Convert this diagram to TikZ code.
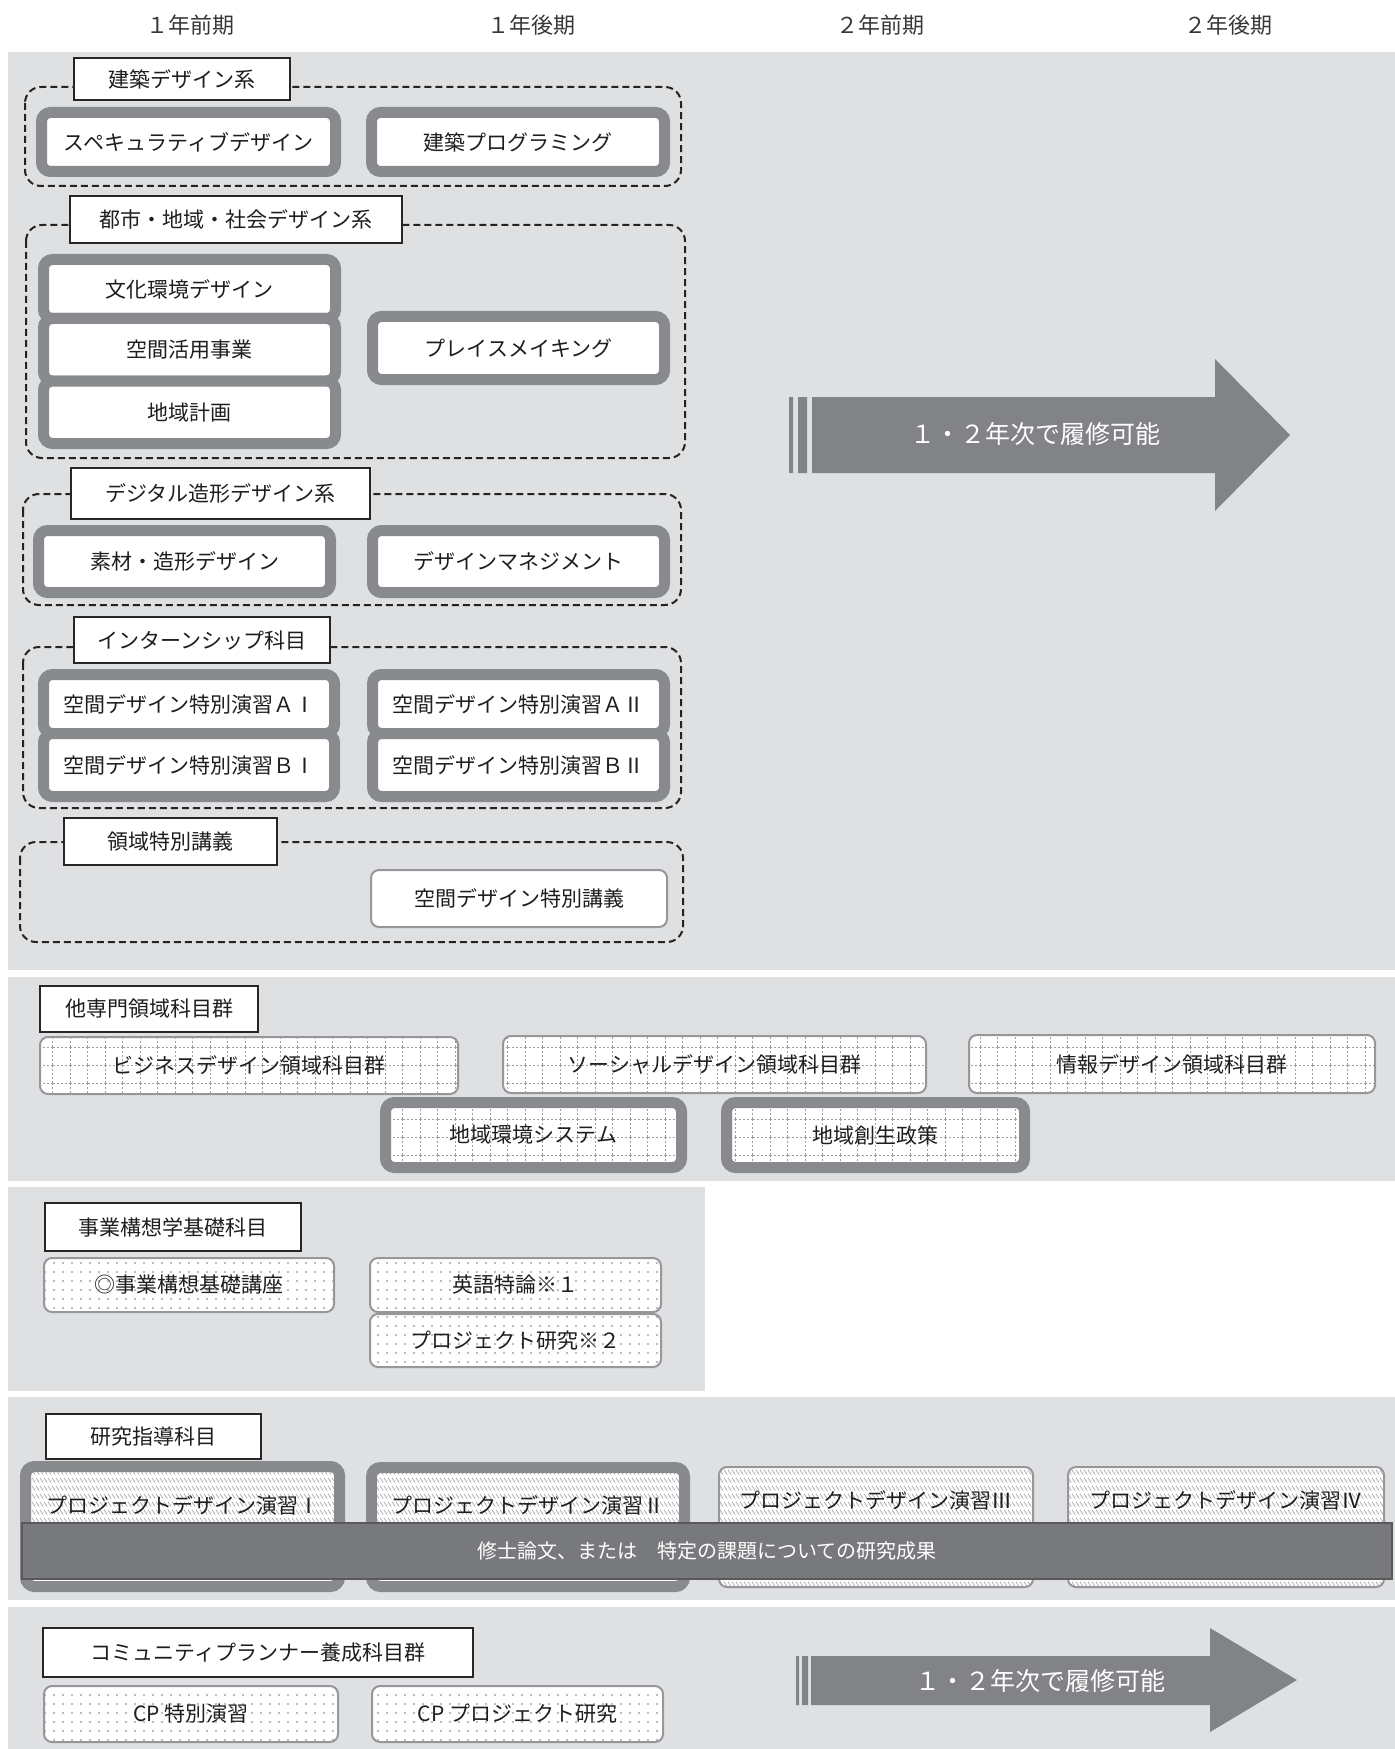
\documentclass[tikz,border=0pt]{standalone}
\usepackage{fontspec}
\setmainfont{Noto Sans CJK JP}
\usetikzlibrary{patterns}

\definecolor{bandgray}{RGB}{223,224,226}
\definecolor{rimgray}{RGB}{137,138,141}
\definecolor{arrowgray}{RGB}{130,131,135}
\definecolor{bargray}{RGB}{120,121,124}
\definecolor{edgegray}{RGB}{150,151,154}
\definecolor{dashgray}{RGB}{35,35,35}
\definecolor{inkgray}{RGB}{30,30,30}
\definecolor{headgray}{RGB}{55,55,55}

% fill patterns of the subject boxes
\pgfdeclarepatternformonly{dashgrid}{\pgfqpoint{-0.5pt}{-0.5pt}}{\pgfqpoint{9.5pt}{9.5pt}}{\pgfqpoint{8.75pt}{9pt}}{%
  \pgfsetlinewidth{0.4pt}\pgfsetdash{{1pt}{1pt}}{0pt}%
  \pgfpathmoveto{\pgfqpoint{0pt}{0pt}}\pgfpathlineto{\pgfqpoint{8.75pt}{0pt}}%
  \pgfpathmoveto{\pgfqpoint{0pt}{0pt}}\pgfpathlineto{\pgfqpoint{0pt}{9pt}}%
  \pgfusepath{stroke}}
\pgfdeclarepatternformonly{sparsedots}{\pgfqpoint{-0.7pt}{-0.7pt}}{\pgfqpoint{0.7pt}{0.7pt}}{\pgfqpoint{4.5pt}{4.5pt}}{%
  \pgfpathcircle{\pgfqpoint{0pt}{0pt}}{0.55pt}\pgfusepath{fill}}
\pgfdeclarepatternformonly{shorthatch}{\pgfqpoint{-0.5pt}{-0.5pt}}{\pgfqpoint{2.5pt}{4.5pt}}{\pgfqpoint{2pt}{4pt}}{%
  \pgfsetlinewidth{0.35pt}%
  \pgfpathmoveto{\pgfqpoint{0pt}{3.6pt}}\pgfpathlineto{\pgfqpoint{1.6pt}{1.2pt}}%
  \pgfusepath{stroke}}

\newcommand{\subjsize}{\fontsize{10.5pt}{12pt}\selectfont}
\newcommand{\headsize}{\fontsize{11pt}{13pt}\selectfont}
\newcommand{\spansize}{\fontsize{12.5pt}{15pt}\selectfont}
\newcommand{\thesissize}{\fontsize{10pt}{12pt}\selectfont}

\tikzset{
  bandbg/.style={fill=bandgray},
  grpline/.style={draw=dashgray, line width=1pt, dash pattern=on 3.5pt off 2pt, rounded corners=8pt},
  tagbox/.style={draw=black!85, fill=white, line width=0.6pt, inner sep=0pt, text=inkgray, font=\subjsize},
  heavybox/.style={draw=rimgray, fill=white, line width=5.5pt, rounded corners=4.5pt, inner sep=0pt, text=inkgray, font=\subjsize},
  slimbox/.style={draw=edgegray, fill=white, line width=1pt, rounded corners=4pt, inner sep=0pt, text=inkgray, font=\subjsize},
  gridfill/.style={preaction={fill=white}, pattern=dashgrid, pattern color=gray!75},
  dotfill/.style={preaction={fill=white}, pattern=sparsedots, pattern color=gray!70},
  hatchfill/.style={preaction={fill=white}, pattern=shorthatch, pattern color=gray!70},
  subjtxt/.style={text=inkgray, font=\subjsize, inner sep=0pt},
  headtxt/.style={text=headgray, font=\headsize},
  spantxt/.style={text=white, font=\spansize},
  thesisbox/.style={draw=black!65, fill=bargray, line width=0.7pt, inner sep=0pt, text=white, font=\thesissize},
}

\begin{document}
\begin{tikzpicture}[x=0.5pt, y=-0.5pt]
		\useasboundingbox (0,0) rectangle (1395,1749);
		% terms
			\foreach \x/\t/\n in {190/１年前期/h1, 531/１年後期/h2, 880/２年前期/h3, 1228/２年後期/h4}{
				\node[headtxt] (\n) at (\x,25) {\t};
				}
		% bands
			\fill[bandbg] (8,52) rectangle (1395,970);
			\fill[bandbg] (8,977) rectangle (1395,1181);
			\fill[bandbg] (8,1187) rectangle (705,1391);
			\fill[bandbg] (8,1397) rectangle (1395,1600);
			\fill[bandbg] (8,1607) rectangle (1395,1749);
		% architecture
			\draw[grpline] (25,87) rectangle (681,186);
			\node[tagbox, minimum width=108pt, minimum height=21pt] (tag1) at (182,79) {建築デザイン系};
			\node[heavybox, minimum width=147pt, minimum height=29.5pt] (spec) at (188.5,142) {スペキュラティブデザイン};
			\node[heavybox, minimum width=146.5pt, minimum height=29.5pt] (prog) at (518,142) {建築プログラミング};
		% city, region, society
			\draw[grpline] (26,225) rectangle (685,458);
			\node[tagbox, minimum width=166pt, minimum height=23.5pt] (tag2) at (236,219.5) {都市・地域・社会デザイン系};
			\node[heavybox, minimum width=146pt, minimum height=29.5pt] (bunka) at (189.5,289) {文化環境デザイン};
			\node[heavybox, minimum width=146pt, minimum height=31.25pt] (katsuyo) at (189.5,349.75) {空間活用事業};
			\node[heavybox, minimum width=146pt, minimum height=31.25pt] (keikaku) at (189.5,412.25) {地域計画};
			\node[heavybox, minimum width=146pt, minimum height=31.5pt] (place) at (518.5,348) {プレイスメイキング};
		% digital
			\draw[grpline] (23,494) rectangle (681,605);
			\node[tagbox, minimum width=149.5pt, minimum height=25.5pt] (tag3) at (220.5,493.5) {デジタル造形デザイン系};
			\node[heavybox, minimum width=146pt, minimum height=31pt] (sozai) at (184.5,561.5) {素材・造形デザイン};
			\node[heavybox, minimum width=146pt, minimum height=31pt] (manage) at (518.5,561.5) {デザインマネジメント};
		% internship
			\draw[grpline] (23,647) rectangle (681,808);
			\node[tagbox, minimum width=128pt, minimum height=23pt] (tag4) at (202,640) {インターンシップ科目};
			\node[heavybox, minimum width=145.5pt, minimum height=29.5pt] (a1) at (189,704) {空間デザイン特別演習ＡⅠ};
			\node[heavybox, minimum width=145.5pt, minimum height=31.5pt] (b1) at (189,765) {空間デザイン特別演習ＢⅠ};
			\node[heavybox, minimum width=146pt, minimum height=29.5pt] (a2) at (518.5,704) {空間デザイン特別演習ＡⅡ};
			\node[heavybox, minimum width=146pt, minimum height=31.5pt] (b2) at (518.5,765) {空間デザイン特別演習ＢⅡ};
		% special lecture
			\draw[grpline] (20,842) rectangle (683,942);
			\node[tagbox, minimum width=106.5pt, minimum height=23.5pt] (tag5) at (170.5,841.5) {領域特別講義};
			\node[slimbox, minimum width=148pt, minimum height=28.5pt] (lecture) at (519,898.5) {空間デザイン特別講義};
		% span arrow
			\fill[arrowgray] (789,397) rectangle (793,473) (798,397) rectangle (807,473);
			\fill[arrowgray] (812,397) -- (1215,397) -- (1215,359) -- (1290,435) -- (1215,511) -- (1215,473) -- (812,473) -- cycle;
			\node[spantxt] (span1) at (1035,434) {１・２年次で履修可能};
		% other fields
			\node[tagbox, minimum width=109pt, minimum height=23pt] (tag6) at (149,1009) {他専門領域科目群};
			\node[slimbox, gridfill, minimum width=209pt, minimum height=28.5pt] (biz) at (249,1065.5) {ビジネスデザイン領域科目群};
			\node[slimbox, gridfill, minimum width=211.5pt, minimum height=28.5pt] (social) at (714.5,1064.5) {ソーシャルデザイン領域科目群};
			\node[slimbox, gridfill, minimum width=203pt, minimum height=29pt] (info) at (1172,1064) {情報デザイン領域科目群};
			\node[heavybox, gridfill, minimum width=148pt, minimum height=32.5pt] (env) at (533.5,1135) {地域環境システム};
			\node[heavybox, gridfill, minimum width=149pt, minimum height=32.5pt] (policy) at (875.5,1135) {地域創生政策};
		% basics
			\node[tagbox, minimum width=128pt, minimum height=24pt] (tag7) at (173,1227) {事業構想学基礎科目};
			\node[slimbox, dotfill, minimum width=145pt, minimum height=27pt] (basic) at (189,1285) {◎事業構想基礎講座};
			\node[slimbox, dotfill, minimum width=145.5pt, minimum height=27pt] (eng) at (515.5,1285) {英語特論※１};
			\node[slimbox, dotfill, minimum width=145.5pt, minimum height=26.5pt] (projres) at (515.5,1340.5) {プロジェクト研究※２};
		% research guidance
			\node[tagbox, minimum width=107.5pt, minimum height=22.5pt] (tag8) at (153.5,1436.5) {研究指導科目};
			\node[heavybox, hatchfill, minimum width=157pt, minimum height=60pt] (pd1) at (182.5,1526.5) {};
			\node[heavybox, hatchfill, minimum width=156.5pt, minimum height=59.5pt] (pd2) at (528,1527) {};
			\node[slimbox, hatchfill, minimum width=157pt, minimum height=60pt] (pd3) at (876,1527) {};
			\node[slimbox, hatchfill, minimum width=158pt, minimum height=60pt] (pd4) at (1226,1527) {};
			\node[subjtxt] (pd1t) at (182.5,1505) {プロジェクトデザイン演習Ⅰ};
			\node[subjtxt] (pd2t) at (528,1505) {プロジェクトデザイン演習Ⅱ};
			\node[subjtxt] (pd3t) at (876,1500) {プロジェクトデザイン演習Ⅲ};
			\node[subjtxt] (pd4t) at (1226,1500) {プロジェクトデザイン演習Ⅳ};
			\node[thesisbox, minimum width=685pt, minimum height=28pt] (thesis) at (707,1551) {修士論文、または　特定の課題についての研究成果};
		% community planner
			\node[tagbox, minimum width=215pt, minimum height=24.5pt] (tag9) at (258,1652.5) {コミュニティプランナー養成科目群};
			\node[slimbox, dotfill, minimum width=147pt, minimum height=28pt] (cpex) at (191,1714) {CP 特別演習};
			\node[slimbox, dotfill, minimum width=145.5pt, minimum height=28pt] (cpres) at (517.5,1714) {CP プロジェクト研究};
			\fill[arrowgray] (796,1656) rectangle (799,1705) (802,1656) rectangle (808,1705);
			\fill[arrowgray] (811,1656) -- (1210,1656) -- (1210,1628) -- (1297,1680) -- (1210,1732) -- (1210,1705) -- (811,1705) -- cycle;
			\node[spantxt] (span2) at (1040,1681) {１・２年次で履修可能};
	\end{tikzpicture}
\end{document}
